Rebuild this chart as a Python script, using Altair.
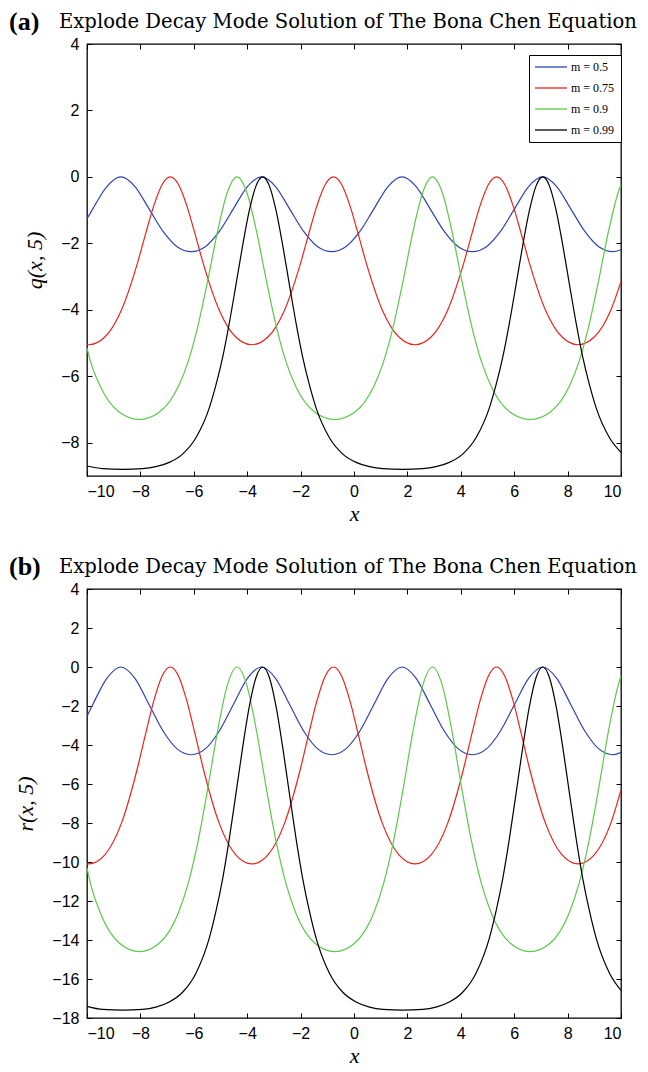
import altair as alt
import pandas as pd

# ---------------- data ----------------
labels = ["m = 0.5", "m = 0.75", "m = 0.9", "m = 0.99"]
colors = ["#2e44b0", "#e8251e", "#5bc94a", "#000000"]

x_ticks = [-10, -8, -6, -4, -2, 0, 2, 4, 6, 8, 10]
ya_ticks = [-8, -6, -4, -2, 0, 2, 4]
yb_ticks = [-18, -16, -14, -12, -10, -8, -6, -4, -2, 0, 2, 4]

blue_x = [-10.0, -9.783, -9.256, -8.73, -8.204, -7.677, -7.151, -6.624, -6.098, -5.571,
          -5.044, -4.518, -3.991, -3.465, -2.939, -2.412, -1.886, -1.359, -0.833, -0.306,
          0.221, 0.747, 1.274, 1.80, 2.327, 2.853, 3.380, 3.906, 4.433, 4.959,
          5.486, 6.012, 6.539, 7.065, 7.592, 8.118, 8.645, 9.171, 9.698, 10.0]
blue_q = [-1.26, -0.96, -0.29, 0.0, -0.29, -0.96, -1.64, -2.10, -2.25, -2.10,
          -1.64, -0.96, -0.29, 0.0, -0.29, -0.96, -1.64, -2.10, -2.25, -2.10,
          -1.64, -0.96, -0.29, 0.0, -0.29, -0.96, -1.64, -2.10, -2.25, -2.10,
          -1.64, -0.96, -0.29, 0.0, -0.29, -0.96, -1.64, -2.10, -2.25, -2.19]
blue_r = [-2.52, -1.92, -0.58, 0.0, -0.58, -1.92, -3.28, -4.20, -4.50, -4.20,
          -3.28, -1.92, -0.58, 0.0, -0.58, -1.92, -3.28, -4.20, -4.50, -4.20,
          -3.28, -1.92, -0.58, 0.0, -0.58, -1.92, -3.28, -4.20, -4.50, -4.20,
          -3.28, -1.92, -0.58, 0.0, -0.58, -1.92, -3.28, -4.20, -4.50, -4.38]

red_x = [-10.0, -9.935, -9.324, -8.713, -8.102, -7.797, -7.491, -7.186, -6.88, -6.574,
         -6.269, -5.963, -5.658, -5.047, -4.436, -3.825, -3.214, -2.603, -1.992, -1.687,
         -1.381, -1.076, -0.77, -0.464, -0.159, 0.147, 0.452, 1.063, 1.674, 2.285,
         2.896, 3.507, 4.118, 4.423, 4.729, 5.034, 5.34, 5.646, 5.951, 6.257,
         6.562, 7.173, 7.784, 8.395, 9.006, 9.617, 10.0]
red_q = [-5.05, -5.05, -4.81, -4.01, -2.57, -1.69, -0.85, -0.23, 0.0, -0.23,
         -0.85, -1.69, -2.57, -4.01, -4.81, -5.05, -4.81, -4.01, -2.57, -1.69,
         -0.85, -0.23, 0.0, -0.23, -0.85, -1.69, -2.57, -4.01, -4.81, -5.05,
         -4.81, -4.01, -2.57, -1.69, -0.85, -0.23, 0.0, -0.23, -0.85, -1.69,
         -2.57, -4.01, -4.81, -5.05, -4.81, -4.01, -3.15]
red_r = [-10.1, -10.1, -9.62, -8.02, -5.14, -3.38, -1.70, -0.46, 0.0, -0.46,
         -1.70, -3.38, -5.14, -8.02, -9.62, -10.1, -9.62, -8.02, -5.14, -3.38,
         -1.70, -0.46, 0.0, -0.46, -1.70, -3.38, -5.14, -8.02, -9.62, -10.1,
         -9.62, -8.02, -5.14, -3.38, -1.70, -0.46, 0.0, -0.46, -1.70, -3.38,
         -5.14, -8.02, -9.62, -10.1, -9.62, -8.02, -6.30]

green_x = [-10.0, -9.87, -9.504, -8.772, -8.04, -7.308, -6.576, -6.21, -5.844, -5.478,
           -5.112, -4.746, -4.38, -4.014, -3.648, -3.282, -2.916, -2.55, -2.184, -1.452,
           -0.72, 0.012, 0.744, 1.11, 1.476, 1.842, 2.208, 2.574, 2.94, 3.306,
           3.672, 4.038, 4.404, 4.77, 5.136, 5.868, 6.60, 7.332, 8.064, 8.43,
           8.796, 9.162, 9.528, 9.894, 10.0]
green_q = [-5.15, -5.55, -6.30, -7.09, -7.30, -7.09, -6.30, -5.55, -4.48, -3.12,
           -1.65, -0.47, 0.0, -0.47, -1.65, -3.12, -4.48, -5.55, -6.30, -7.09,
           -7.30, -7.09, -6.30, -5.55, -4.48, -3.12, -1.65, -0.47, 0.0, -0.47,
           -1.65, -3.12, -4.48, -5.55, -6.30, -7.09, -7.30, -7.09, -6.30, -5.55,
           -4.48, -3.12, -1.65, -0.47, -0.23]
green_r = [-10.3, -11.1, -12.6, -14.18, -14.6, -14.18, -12.6, -11.1, -8.96, -6.24,
           -3.30, -0.94, 0.0, -0.94, -3.30, -6.24, -8.96, -11.1, -12.6, -14.18,
           -14.6, -14.18, -12.6, -11.1, -8.96, -6.24, -3.30, -0.94, 0.0, -0.94,
           -3.30, -6.24, -8.96, -11.1, -12.6, -14.18, -14.6, -14.18, -12.6, -11.1,
           -8.96, -6.24, -3.30, -0.94, -0.46]

black_x = [-10.0, -9.41, -8.665, -7.92, -7.42, -6.92, -6.42, -5.92, -5.42, -5.17,
           -4.92, -4.67, -4.42, -4.17, -3.92, -3.67, -3.42, -3.17, -2.92, -2.67,
           -2.42, -2.17, -1.92, -1.67, -1.42, -0.92, -0.42, 0.08, 0.58, 1.08,
           1.825, 2.57, 3.07, 3.57, 4.07, 4.57, 5.07, 5.32, 5.57, 5.82,
           6.07, 6.32, 6.57, 6.82, 7.07, 7.32, 7.57, 7.82, 8.07, 8.32,
           8.57, 8.82, 9.07, 9.57, 10.0]
black_q = [-8.70, -8.78, -8.80, -8.78, -8.72, -8.59, -8.34, -7.85, -6.95, -6.26,
           -5.43, -4.40, -3.24, -2.06, -1.01, -0.27, 0.0, -0.27, -1.01, -2.06,
           -3.24, -4.40, -5.43, -6.26, -6.95, -7.85, -8.34, -8.59, -8.72, -8.78,
           -8.80, -8.78, -8.72, -8.59, -8.34, -7.85, -6.95, -6.26, -5.43, -4.40,
           -3.24, -2.06, -1.01, -0.27, 0.0, -0.27, -1.01, -2.06, -3.24, -4.40,
           -5.43, -6.26, -6.95, -7.85, -8.29]
black_r = [-17.40, -17.56, -17.60, -17.56, -17.44, -17.18, -16.68, -15.70, -13.90, -12.52,
           -10.86, -8.80, -6.48, -4.12, -2.02, -0.54, 0.0, -0.54, -2.02, -4.12,
           -6.48, -8.80, -10.86, -12.52, -13.90, -15.70, -16.68, -17.18, -17.44, -17.56,
           -17.60, -17.56, -17.44, -17.18, -16.68, -15.70, -13.90, -12.52, -10.86, -8.80,
           -6.48, -4.12, -2.02, -0.54, 0.0, -0.54, -2.02, -4.12, -6.48, -8.80,
           -10.86, -12.52, -13.90, -15.70, -16.58]

title_text = "Explode Decay Mode Solution of The Bona Chen Equation"

all_x = [blue_x, red_x, green_x, black_x]


def make_df(ys):
    rows = []
    for lab, xs, vs in zip(labels, all_x, ys):
        for i, (a, b) in enumerate(zip(xs, vs)):
            rows.append({"x": a, "v": b, "m": lab, "i": i})
    return pd.DataFrame(rows)


W = 534
SERIF = "Liberation Serif"
SANS = "Liberation Sans"


def panel(df, letter, ytitle, ydom, yvals, H, leg_y, leg_rowpad):
    xs = alt.Scale(domain=[-10, 10], nice=False, zero=False)
    ys = alt.Scale(domain=ydom, nice=False, zero=False)

    lines = alt.Chart(df).mark_line(interpolate="monotone", strokeWidth=1.2).encode(
        x=alt.X("x:Q", scale=xs, axis=alt.Axis(
            orient="bottom", values=x_ticks, ticks=False, domain=False, grid=False,
            format="d", labelFont=SANS, labelFontSize=16, labelColor="black",
            labelPadding=7, title="x", titleFont=SERIF, titleFontStyle="italic",
            titleFontWeight="normal", titleFontSize=22, titleColor="black",
            titlePadding=4)),
        y=alt.Y("v:Q", scale=ys, axis=alt.Axis(
            orient="left", values=yvals, ticks=False, domain=False, grid=False,
            format="d", labelFont=SANS, labelFontSize=16, labelColor="black",
            labelPadding=8, title=ytitle, titleFont=SERIF, titleFontStyle="italic",
            titleFontWeight="normal", titleFontSize=22, titleColor="black",
            titlePadding=14)),
        color=alt.Color("m:N", scale=alt.Scale(domain=labels, range=colors),
                        legend=alt.Legend(
                            title=None, orient="none", legendX=442, legendY=leg_y,
                            direction="vertical", strokeColor="black",
                            fillColor="white", padding=6, cornerRadius=0,
                            symbolType="M-4,0H4", symbolSize=64,
                            symbolStrokeWidth=1.3, symbolOffset=10,
                            labelOffset=14, labelFont=SERIF, labelFontSize=12,
                            labelColor="black", rowPadding=leg_rowpad)),
        order="i:Q",
    )

    tick_ax = dict(labels=False, ticks=True, tickSize=5, tickColor="black",
                   tickWidth=1, domain=False, grid=False, title=None)
    t1 = alt.Chart(df).mark_line(opacity=0).encode(
        x=alt.X("x:Q", scale=xs, axis=alt.Axis(orient="top", offset=-H, values=x_ticks, **tick_ax)),
        y=alt.Y("v:Q", scale=ys, axis=alt.Axis(orient="right", offset=-W, values=yvals, **tick_ax)),
        detail="m:N",
    )
    t2 = alt.Chart(df).mark_line(opacity=0).encode(
        x=alt.X("x:Q", scale=xs, axis=alt.Axis(orient="bottom", offset=-H, values=x_ticks, **tick_ax)),
        y=alt.Y("v:Q", scale=ys, axis=alt.Axis(orient="left", offset=-W, values=yvals, **tick_ax)),
        detail="m:N",
    )

    lab = alt.Chart(pd.DataFrame({"t": [letter]})).mark_text(
        font=SERIF, fontWeight="bold", fontSize=26, align="left",
        baseline="alphabetic", color="black").encode(
        text="t:N", x=alt.value(-78), y=alt.value(-14))
    ttl = alt.Chart(pd.DataFrame({"t": [title_text]})).mark_text(
        font="DejaVu Serif", fontWeight="normal", fontSize=19.6, align="left",
        baseline="alphabetic", color="black").encode(
        text="t:N", x=alt.value(-28), y=alt.value(-16))

    return alt.layer(lines, t1, t2, lab, ttl).resolve_axis(
        x="independent", y="independent").properties(width=W, height=H)


pa = panel(make_df([blue_q, red_q, green_q, black_q]), "(a)", "q(x, 5)",
           [-9, 4], ya_ticks, 432, 11, 9)
pb = panel(make_df([blue_r, red_r, green_r, black_r]), "(b)", "r(x, 5)",
           [-18, 4], yb_ticks, 429, 0, 7)

chart = alt.vconcat(pa, pb, spacing=28).properties(padding=0).configure_view(
    stroke="black", strokeWidth=1.3)

chart.save("out.html", embed_options={"renderer": "svg", "actions": False})
